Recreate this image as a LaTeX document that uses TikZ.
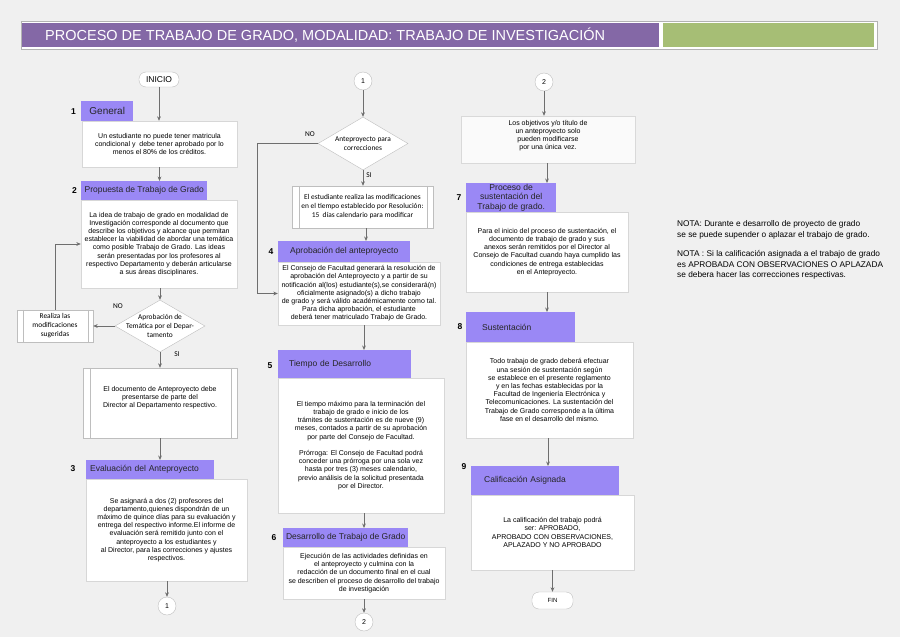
\documentclass[tikz,border=0pt]{standalone}
\usepackage{fontspec}
\setmainfont{Liberation Sans}
\newfontfamily\calfam{Carlito}
\usetikzlibrary{arrows.meta,shapes.geometric}
\definecolor{bgcol}{RGB}{240,240,240}
\definecolor{titlecol}{RGB}{132,104,166}
\definecolor{greencol}{RGB}{166,190,117}
\definecolor{hdrcol}{RGB}{154,136,245}
\definecolor{edgecol}{RGB}{215,215,215}
\definecolor{procedge}{RGB}{190,190,190}
\definecolor{linecol}{RGB}{110,110,110}
\newcommand{\bodyf}{\fontsize{7}{8.2}\selectfont}
\newcommand{\hdrf}{\fontsize{8.5}{9.6}\selectfont}
\newcommand{\numf}{\fontsize{8.5}{10}\selectfont\bfseries}
\newcommand{\calf}{\calfam\fontsize{7.4}{9}\selectfont}
\newcommand{\notef}{\fontsize{8.3}{10.5}\selectfont}
\tikzset{
  box/.style={draw=edgecol, fill=white, inner sep=0pt, align=center, font=\bodyf},
  procbox/.style={draw=procedge, fill=white, inner sep=0pt, align=center, font=\calf},
  hdr/.style={fill=hdrcol, inner sep=0pt, anchor=north west, font=\hdrf, text=black!85},
  dec/.style={diamond, draw=procedge, fill=white, inner sep=0pt},
  term/.style={draw=procedge, fill=white, rounded corners=7pt, inner sep=0pt, font=\fontsize{8.5}{10}\selectfont},
  conn/.style={circle, draw=procedge, fill=white, inner sep=0pt, minimum size=18pt, font=\fontsize{7}{8}\selectfont},
  arr/.style={draw=linecol, line width=0.8pt, -{Stealth[length=4.5pt,width=3.8pt]}},
  ln/.style={draw=linecol, line width=0.8pt},
  num/.style={font=\numf, inner sep=0pt},
  lab/.style={font=\calf, inner sep=0pt}
}
\begin{document}
\begin{tikzpicture}[x=1pt,y=-1pt]
\useasboundingbox (0,0) rectangle (900,637);
\fill[bgcol] (0,0) rectangle (900,637);
% title
\draw[draw=gray!60, fill=white, line width=0.6pt] (21,21) rectangle (877,49);
\node[fill=titlecol, minimum width=637pt, minimum height=24pt, inner sep=0pt, anchor=north west] (tbar) at (22,23) {};
\node[fill=greencol, minimum width=211pt, minimum height=24pt, inner sep=0pt, anchor=north west] (gbar) at (663,23) {};
\node[anchor=west, text=white, font=\fontsize{14.5}{16}\selectfont, inner sep=0pt] (title) at (45,35.5) {PROCESO DE TRABAJO DE GRADO, MODALIDAD: TRABAJO DE INVESTIGACIÓN};

% ---------- column 1 ----------
\node[term, minimum width=40pt, minimum height=15pt] (inicio) at (159,79.5) {INICIO};
\node[box, minimum width=155pt, minimum height=46pt] (b1) at (159.5,144) {Un estudiante no puede tener matricula\\condicional y \ debe tener aprobado por lo\\menos el 80\% de los créditos.};
\node[hdr, minimum width=52pt, minimum height=20pt, font=\fontsize{10}{12}\selectfont] (h1) at (81,101) {General};
\node[num] (n1) at (73.5,112) {1};
\node[box, minimum width=156pt, minimum height=88pt] (b2) at (159,244) {La idea de trabajo de grado en modalidad de\\Investigación corresponde al documento que\\describe los objetivos y alcance que permitan\\establecer la viabilidad de abordar una temática\\como posible Trabajo de Grado. Las ideas\\serán presentadas por los profesores al\\respectivo Departamento y deberán articularse\\a sus áreas disciplinares.};
\node[hdr, minimum width=126pt, minimum height=19pt] (h2) at (81,181) {Propuesta de Trabajo de Grado};
\node[num] (n2) at (74.5,190.5) {2};
\node[dec, minimum width=90pt, minimum height=52pt] (d1) at (160,326) {};
\node[lab, align=center] (d1t) at (160,326) {Aprobación de\\Temática por el Depar-\\tamento};
\node[procbox, minimum width=76pt, minimum height=32pt] (r1) at (55,326) {Realiza las\\modificaciones\\sugeridas};
\draw[procedge] ([xshift=6pt]r1.north west) -- ([xshift=6pt]r1.south west);
\draw[procedge] ([xshift=-5pt]r1.north east) -- ([xshift=-5pt]r1.south east);
\node[lab] (no1) at (118,306) {NO};
\node[lab] (si1) at (177,354) {SI};
\node[procbox, font=\bodyf, minimum width=154pt, minimum height=70pt] (p1) at (160,403) {El documento de Anteproyecto debe\\presentarse de parte del\\Director al Departamento respectivo.\\[4pt]};
\draw[procedge] ([xshift=7pt]p1.north west) -- ([xshift=7pt]p1.south west);
\draw[procedge] ([xshift=-6pt]p1.north east) -- ([xshift=-6pt]p1.south east);
\node[box, minimum width=161pt, minimum height=102pt] (b3) at (166.5,530) {Se asignará a dos (2) profesores del\\departamento,quienes dispondrán de un\\máximo de quince días para su evaluación y\\entrega del respectivo informe.El informe de\\evaluación será remitido junto con el\\anteproyecto a los estudiantes y\\al Director, para las correcciones y ajustes\\respectivos.};
\node[hdr, minimum width=128pt, minimum height=19pt, text width=120pt, inner xsep=4pt, align=left] (h3) at (86,460) {Evaluación del Anteproyecto};
\node[num] (n3) at (73,469) {3};
\node[conn] (c1a) at (167,606) {1};

\draw[arr] (inicio.south) -- (inicio.south |- b1.north);
\draw[arr] (b1.south) -- (b1.south |- h2.north);
\draw[arr] (b2.south -| d1.north) -- (d1.north);
\draw[arr] (d1.west) -- (r1.east);
\draw[arr] (r1.north) |- (b2.west);
\draw[arr] (d1.south) -- (p1.north);
\draw[arr] (p1.south) -- (p1.south |- h3.north);
\draw[arr] (b3.south -| c1a.north) -- (c1a.north);

% ---------- column 2 ----------
\node[conn] (c1b) at (363,81) {1};
\node[dec, minimum width=90pt, minimum height=53pt] (d2) at (363,143.5) {};
\node[lab, align=center] (d2t) at (363,143.5) {Anteproyecto para\\correcciones};
\node[lab] (no2) at (310,134) {NO};
\node[lab] (si2) at (369,175.5) {SI};
\node[procbox, minimum width=141pt, minimum height=42pt] (p2) at (362.5,207) {El estudiante realiza las modificaciones\\en el tiempo establecido por Resolución:\\15 \ días calendario para modificar};
\draw[procedge] ([xshift=7pt]p2.north west) -- ([xshift=7pt]p2.south west);
\draw[procedge] ([xshift=-6pt]p2.north east) -- ([xshift=-6pt]p2.south east);
\node[box, minimum width=162pt, minimum height=63pt] (b4) at (359,293.5) {El Consejo de Facultad generará la resolución de\\aprobación del Anteproyecto y a partir de su\\notificación al(los) estudiante(s),se considerará(n)\\oficialmente asignado(s) a dicho trabajo\\de grado y será válido académicamente como tal.\\Para dicha aprobación, el estudiante\\deberá tener matriculado Trabajo de Grado.};
\node[hdr, minimum width=132pt, minimum height=21pt] (h4) at (278,241) {Aprobación del anteproyecto};
\node[num] (n4) at (271,252) {4};
\node[box, minimum width=166pt, minimum height=135pt] (b5) at (361,445.5) {El tiempo máximo para la terminación del\\trabajo de grado e inicio de los\\trámites de sustentación es de nueve (9)\\meses, contados a partir de su aprobación\\por parte del Consejo de Facultad.\\[8.2pt]Prórroga: El Consejo de Facultad podrá\\conceder una prórroga por una sola vez\\hasta por tres (3) meses calendario,\\previo análisis de la solicitud presentada\\por el Director.};
\node[hdr, minimum width=122pt, minimum height=28pt, text width=111pt, inner xsep=11pt, inner ysep=0pt, align=left] (h5) at (278,350) {Tiempo de Desarrollo};
\node[num] (n5) at (270,366) {5};
\node[box, minimum width=162pt, minimum height=52pt] (b6) at (364,573) {Ejecución de las actividades definidas en\\el anteproyecto y culmina con la\\redacción de un documento final en el cual\\se describen el proceso de desarrollo del trabajo\\de investigación};
\node[hdr, minimum width=125pt, minimum height=19pt] (h6) at (283,528) {Desarrollo de Trabajo de Grado};
\node[num] (n6) at (274,537.5) {6};
\node[conn] (c2a) at (364,622) {2};
\coordinate (k2) at (257,143.5);

\draw[arr] (c1b.south) -- (d2.north);
\draw[arr] (d2.south) -- (d2.south |- p2.north);
\draw[ln] (d2.west) -- (k2);
\draw[arr] (k2) |- (b4.west);
\draw[arr] (p2.south -| 366,0) -- (h4.north -| 366,0);
\draw[arr] (b4.south -| 364,0) -- (h5.north -| 364,0);
\draw[arr] (b5.south -| 364,0) -- (h6.north -| 364,0);
\draw[arr] (b6.south -| c2a.north) -- (c2a.north);

% ---------- column 3 ----------
\node[conn] (c2b) at (544,82) {2};
\node[box, draw=bgcol!80!gray, fill=white!70!bgcol, minimum width=174pt, minimum height=47pt] (bt) at (548,139.5) {Los objetivos y/o título de\\un anteproyecto solo\\pueden modificarse\\por una única vez.\\[1pt]};
\node[box, minimum width=162pt, minimum height=80pt] (b7) at (547,252) {Para el inicio del proceso de sustentación, el\\documento de trabajo de grado y sus\\anexos serán remitidos por el Director al\\Consejo de Facultad cuando haya cumplido las\\condiciones de entrega establecidas\\en el Anteproyecto.};
\node[hdr, minimum width=90pt, minimum height=29pt, align=center, font=\fontsize{8.6}{9.4}\selectfont] (h7) at (466,183) {Proceso de\\sustentación del\\Trabajo de grado.};
\node[num] (n7) at (459,198) {7};
\node[box, minimum width=167pt, minimum height=96pt] (b8) at (549.5,390) {Todo trabajo de grado deberá efectuar\\una sesión de sustentación según\\se establece en el presente reglamento\\y en las fechas establecidas por la\\Facultad de Ingeniería Electrónica y\\Telecomunicaciones. La sustentación del\\Trabajo de Grado corresponde a la última\\fase en el desarrollo del mismo.};
\node[hdr, minimum width=93pt, minimum height=30pt, text width=77pt, inner xsep=16pt, align=left] (h8) at (466,312) {Sustentación};
\node[num] (n8) at (460,326.5) {8};
\node[box, minimum width=163pt, minimum height=75pt] (b9) at (552.5,532.5) {La calificación del trabajo podrá\\ser: APROBADO,\\APROBADO CON OBSERVACIONES,\\APLAZADO Y NO APROBADO};
\node[hdr, minimum width=148pt, minimum height=29pt, text width=122pt, inner xsep=13pt, align=left] (h9) at (471,466) {Calificación Asignada};
\node[num] (n9) at (464,466.5) {9};
\node[term, minimum width=41pt, minimum height=17pt, font=\fontsize{6}{7}\selectfont] (fin) at (552.5,600.5) {FIN};

\draw[arr] (c2b.south) -- (c2b.south |- bt.north);
\draw[arr] (bt.south -| 547,0) -- (h7.north -| 547,0);
\draw[arr] (b7.south -| 547,0) -- (h8.north -| 547,0);
\draw[arr] (b8.south -| 548,0) -- (h9.north -| 548,0);
\draw[arr] (b9.south -| fin.north) -- (fin.north);

% ---------- notes ----------
\node[anchor=north west, align=left, font=\notef, inner sep=0pt] (note1) at (677,220.5) {NOTA: Durante e desarrollo de proyecto de grado\\se se puede supender o aplazar el trabajo de grado.};
\node[anchor=north west, align=left, font=\notef, inner sep=0pt] (note2) at (677,250.5) {NOTA : Si la calificación asignada a el trabajo de grado\\es APROBADA CON OBSERVACIONES O APLAZADA\\se debera hacer las correcciones respectivas.};
\end{tikzpicture}
\end{document}
